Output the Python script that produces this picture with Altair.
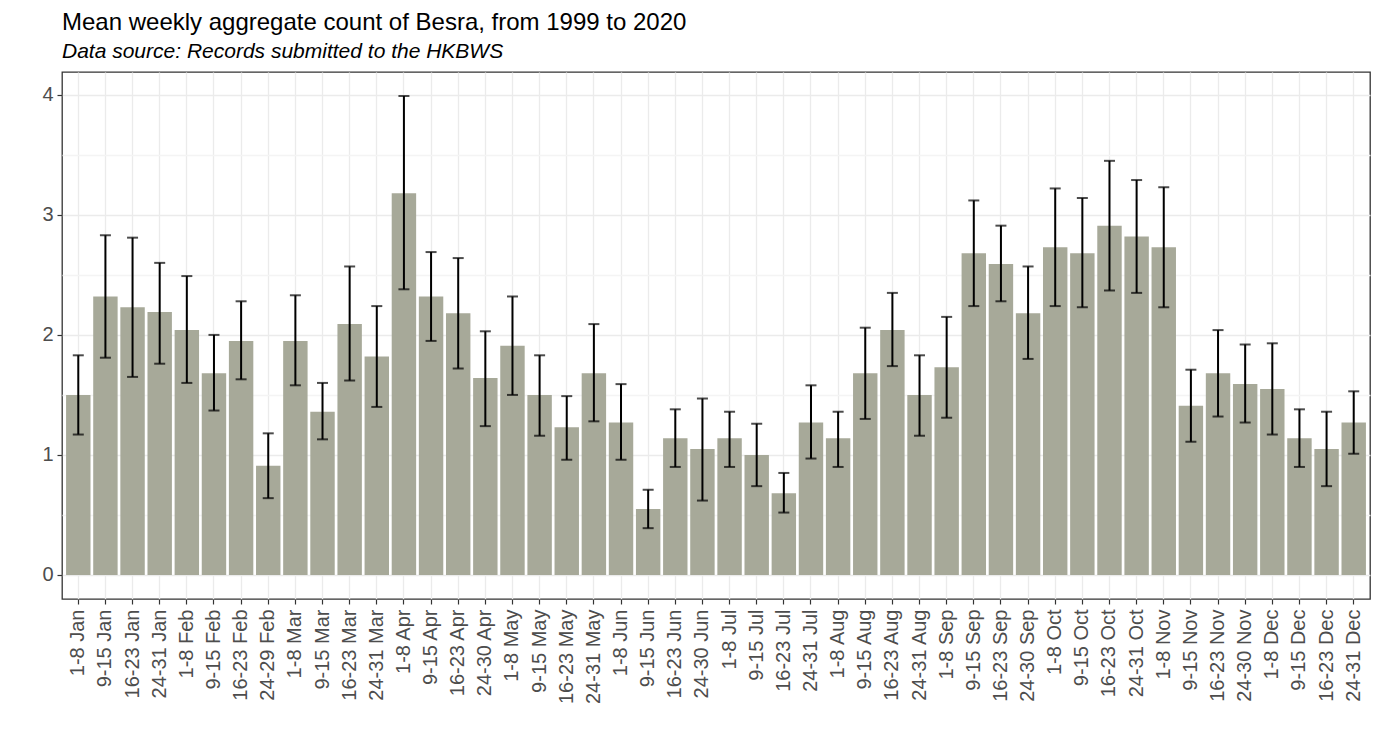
import altair as alt
import pandas as pd

labels = ["1-8 Jan", "9-15 Jan", "16-23 Jan", "24-31 Jan",
          "1-8 Feb", "9-15 Feb", "16-23 Feb", "24-29 Feb",
          "1-8 Mar", "9-15 Mar", "16-23 Mar", "24-31 Mar",
          "1-8 Apr", "9-15 Apr", "16-23 Apr", "24-30 Apr",
          "1-8 May", "9-15 May", "16-23 May", "24-31 May",
          "1-8 Jun", "9-15 Jun", "16-23 Jun", "24-30 Jun",
          "1-8 Jul", "9-15 Jul", "16-23 Jul", "24-31 Jul",
          "1-8 Aug", "9-15 Aug", "16-23 Aug", "24-31 Aug",
          "1-8 Sep", "9-15 Sep", "16-23 Sep", "24-30 Sep",
          "1-8 Oct", "9-15 Oct", "16-23 Oct", "24-31 Oct",
          "1-8 Nov", "9-15 Nov", "16-23 Nov", "24-30 Nov",
          "1-8 Dec", "9-15 Dec", "16-23 Dec", "24-31 Dec"]

means = [1.50, 2.32, 2.23, 2.19, 2.04, 1.68, 1.95, 0.91,
         1.95, 1.36, 2.09, 1.82, 3.18, 2.32, 2.18, 1.64,
         1.91, 1.50, 1.23, 1.68, 1.27, 0.55, 1.14, 1.05,
         1.14, 1.00, 0.68, 1.27, 1.14, 1.68, 2.04, 1.50,
         1.73, 2.68, 2.59, 2.18, 2.73, 2.68, 2.91, 2.82,
         2.73, 1.41, 1.68, 1.59, 1.55, 1.14, 1.05, 1.27]

highs = [1.83, 2.83, 2.81, 2.60, 2.49, 2.00, 2.28, 1.18,
         2.33, 1.60, 2.57, 2.24, 3.99, 2.69, 2.64, 2.03,
         2.32, 1.83, 1.49, 2.09, 1.59, 0.71, 1.38, 1.47,
         1.36, 1.26, 0.85, 1.58, 1.36, 2.06, 2.35, 1.83,
         2.15, 3.12, 2.91, 2.57, 3.22, 3.14, 3.45, 3.29,
         3.23, 1.71, 2.04, 1.92, 1.93, 1.38, 1.36, 1.53]

lows = [1.17, 1.81, 1.65, 1.76, 1.60, 1.37, 1.63, 0.64,
        1.58, 1.13, 1.62, 1.40, 2.38, 1.95, 1.72, 1.24,
        1.50, 1.16, 0.96, 1.28, 0.96, 0.39, 0.90, 0.62,
        0.90, 0.74, 0.52, 0.97, 0.90, 1.30, 1.74, 1.16,
        1.31, 2.24, 2.28, 1.80, 2.24, 2.23, 2.37, 2.35,
        2.23, 1.11, 1.32, 1.27, 1.17, 0.90, 0.74, 1.01]

df = pd.DataFrame({"week": labels, "mean": means, "hi": highs, "lo": lows})

FONT = "Liberation Sans"

x_enc = alt.X(
    "week:N", sort=labels, title=None,
    scale=alt.Scale(paddingInner=0.1, paddingOuter=0.15),
    axis=alt.Axis(labelAngle=-90, labelAlign="right", labelBaseline="middle",
                  labelFontSize=20, labelColor="#4d4d4d",
                  labelFont=FONT, labelPadding=5, tickSize=5, tickColor="#333333",
                  tickWidth=1.2, domain=False, bandPosition=0.5,
                  grid=True, gridColor="#ebebeb", gridWidth=1.3),
)

y_scale = alt.Scale(domain=[-0.2, 4.19], nice=False, zero=False)

bars = alt.Chart(df).mark_bar(color="#a7a999").encode(
    x=x_enc,
    y=alt.Y("mean:Q", title=None, scale=y_scale,
            axis=alt.Axis(values=[0, 0.5, 1, 1.5, 2, 2.5, 3, 3.5, 4], format=".0f",
                          labelExpr="datum.value % 1 ? '' : datum.label",
                          labelFontSize=20, labelColor="#4d4d4d", labelFont=FONT,
                          labelPadding=4, tickSize=5, tickColor="#333333", tickWidth=1.2,
                          tickOpacity={"condition": {"test": "datum.value % 1 !== 0", "value": 0}, "value": 1},
                          gridColor={"condition": {"test": "datum.value % 1 !== 0", "value": "#f4f4f4"}, "value": "#ebebeb"},
                          gridWidth=1.3, domain=False)),
    y2=alt.Y2("base:Q"),
).transform_calculate(base="0")

rules = alt.Chart(df).mark_rule(color="black", strokeWidth=2).encode(
    x=alt.X("week:N", sort=labels),
    y=alt.Y("lo:Q", scale=y_scale),
    y2="hi:Q",
)

caps_hi = alt.Chart(df).mark_tick(color="black", size=11, thickness=2).encode(
    x=alt.X("week:N", sort=labels),
    y=alt.Y("hi:Q", scale=y_scale),
)
caps_lo = alt.Chart(df).mark_tick(color="black", size=11, thickness=2).encode(
    x=alt.X("week:N", sort=labels),
    y=alt.Y("lo:Q", scale=y_scale),
)

chart = alt.layer(bars, rules, caps_hi, caps_lo).properties(
    width=1308, height=527,
    title=alt.Title(
        text="Mean weekly aggregate count of Besra, from 1999 to 2020",
        subtitle="Data source: Records submitted to the HKBWS",
        anchor="start", frame="group", font=FONT, fontSize=24, fontWeight="normal",
        color="black", subtitleFont=FONT, subtitleFontSize=21,
        subtitleFontStyle="italic", subtitleColor="black",
        subtitlePadding=6, offset=10,
    ),
    padding={"left": 54, "top": 64, "right": 2, "bottom": 140},
    autosize=alt.AutoSizeParams(type="none"),
).configure(
    background="white",
    view=alt.ViewConfig(stroke="#333333", strokeWidth=1.3),
)

chart.save("out.html", embed_options={"renderer": "svg", "actions": False})
